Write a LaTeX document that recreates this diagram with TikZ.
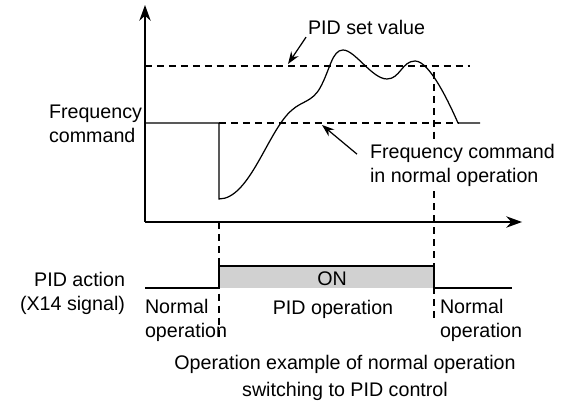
\documentclass[tikz,border=0pt]{standalone}
\usepackage{fontspec}
\setmainfont{Liberation Sans}
\usetikzlibrary{arrows.meta}

\begin{document}
\begin{tikzpicture}[x={(0.02cm,0cm)},y={(0cm,-0.02cm)},
  every node/.style={inner sep=0pt, outer sep=0pt, font=\fontsize{11.2}{13.6}\selectfont},
  axis/.style={line width=0.7pt,-{Stealth[length=9pt,width=6.5pt]}},
  pointer/.style={line width=0.7pt,-{Stealth[length=7pt,width=5pt]}},
  guide/.style={line width=0.7pt,dash pattern=on 4pt off 2.8pt},
  trace/.style={line width=0.7pt}]
\useasboundingbox (0,0) rectangle (570,401);

\coordinate (O) at (145,222);
\coordinate (ytip) at (145,5);
\coordinate (xtip) at (522,222);
\coordinate (setpt) at (288,64);
\coordinate (cmdpt) at (322,125);

\draw[guide] (145,66) -- (470,66);
\draw[guide] (219,123) -- (458,123);
\draw[guide] (219,222) -- (219,338);
\draw[guide] (434,72) -- (434,322);

\draw[axis] (O) -- (ytip);
\draw[axis] (O) -- (xtip);

\draw[trace] (145,123) -- (219,123) -- (219,199)
  .. controls (250,199) and (268,130) .. (292,110)
  .. controls (302,101) and (312,102) .. (320,88)
  .. controls (330,70) and (332,50) .. (343,50)
  .. controls (355,50) and (372,79) .. (387,79)
  .. controls (400,79) and (402,61) .. (415,61)
  .. controls (430,61) and (450,105) .. (458,123) -- (480,123);

\node[anchor=west,align=left] (fcmd) at (49,123.5) {Frequency\\command};
\node[anchor=west] (setlbl) at (308,27) {PID set value};
\node[anchor=west,align=left,fill=white,inner ysep=3pt] (normlbl) at (370,165) {Frequency command\\in normal operation};
\draw[pointer,shorten <=2pt] (setlbl.south west) -- (setpt);
\draw[pointer,shorten <=0.34cm] (normlbl.west) -- (cmdpt);

\fill[black!18] (219,266) rectangle (434,288);
\draw[trace] (145,288) -- (219,288) -- (219,266) -- (434,266) -- (434,288) -- (512,288);

\node (on) at (332,279) {ON};
\node[anchor=east,align=right] (act) at (125,293.5) {PID action\\(X14 signal)};
\node[anchor=west,align=left] (norm1) at (145,320) {Normal\\operation};
\node (pidop) at (333,309) {PID operation};
\node[anchor=west,align=left] (norm2) at (440,320) {Normal\\operation};
\node[align=center] (caption) at (345,378) {Operation example of normal operation\\[1.5pt]switching to PID control};
\end{tikzpicture}
\end{document}
